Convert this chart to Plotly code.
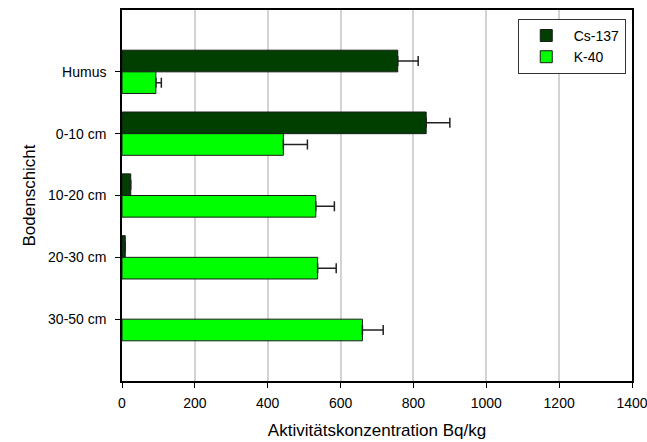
import plotly.graph_objects as go

categories = ["Humus", "0-10 cm", "10-20 cm", "20-30 cm", "30-50 cm"]
cs137 = [757, 835, 24, 9, None]
cs137_err = [56, 65, 0, 0, 0]
k40 = [93, 443, 532, 537, 660]
k40_err = [15, 66, 51, 51, 57]
x_ticks = [0, 200, 400, 600, 800, 1000, 1200, 1400]

font_family = "Liberation Sans, Arial, sans-serif"
no_minus = [0] * len(categories)

fig = go.Figure()
fig.add_trace(go.Bar(
    y=categories, x=cs137, orientation="h", name="Cs-137",
    marker=dict(color="#003f00", line=dict(color="#1a1a1a", width=1)),
    error_x=dict(type="data", array=cs137_err, arrayminus=no_minus, symmetric=False,
                 visible=True, color="#222222", thickness=1.5, width=5),
))
fig.add_trace(go.Bar(
    y=categories, x=k40, orientation="h", name="K-40",
    marker=dict(color="#00ff00", line=dict(color="#1a1a1a", width=1)),
    error_x=dict(type="data", array=k40_err, arrayminus=no_minus, symmetric=False,
                 visible=True, color="#222222", thickness=1.5, width=5),
))

fig.update_layout(
    width=647, height=442,
    margin=dict(l=122, r=15, t=10, b=61, autoexpand=False),
    paper_bgcolor="white", plot_bgcolor="white",
    barmode="group", bargap=0.3, bargroupgap=0,
    font=dict(family=font_family, size=14, color="black"),
    showlegend=True,
    legend=dict(
        x=0.776, xanchor="left", y=0.976, yanchor="top",
        bordercolor="#333333", borderwidth=1, bgcolor="white",
        font=dict(size=14), traceorder="normal", itemwidth=45,
    ),
)
fig.update_xaxes(
    range=[0, 1400], tickvals=x_ticks, ticktext=[str(v) for v in x_ticks],
    showgrid=True, gridcolor="#d3d3d3", gridwidth=1.5, zeroline=False,
    showline=True, linecolor="black", linewidth=1.5, mirror=True,
    ticks="outside", ticklen=5, tickcolor="black", ticklabelstandoff=3,
    ticklabeloverflow="allow", automargin=False,
    title=dict(text="Aktivitätskonzentration Bq/kg", font=dict(size=17), standoff=15),
)
fig.update_yaxes(
    type="category", categoryorder="array", categoryarray=categories,
    range=[5, -1], showgrid=False, zeroline=False, automargin=False,
    showline=True, linecolor="black", linewidth=1.5, mirror=True,
    ticks="outside", ticklen=5, tickcolor="black", ticklabelstandoff=6,
    title=dict(text="Bodenschicht", font=dict(size=17), standoff=8),
)

fig.write_html("out.html")
